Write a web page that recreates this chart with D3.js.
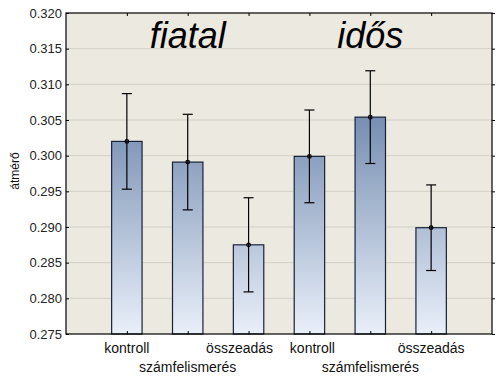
<!DOCTYPE html>
<html><head><meta charset="utf-8">
<script src="https://cdn.jsdelivr.net/npm/d3@7"></script>
<style>body{margin:0;background:#fff}svg{display:block}</style>
</head><body>
<svg id="c" width="503" height="378"></svg>
<script>
const categories = ["fiatal-kontroll","fiatal-számfelismerés","fiatal-összeadás","idős-kontroll","idős-számfelismerés","idős-összeadás"];
const tickLabels = ["kontroll","számfelismerés","összeadás","kontroll","számfelismerés","összeadás"];
const groupLabels = ["fiatal","idős"];
const means = [0.3020, 0.2991, 0.2875, 0.2999, 0.3054, 0.2899];
const errors = [0.0067, 0.0067, 0.0066, 0.0065, 0.0065, 0.0060];
const yTicks = [0.275,0.280,0.285,0.290,0.295,0.300,0.305,0.310,0.315,0.320];

const svg = d3.select("#c");
const L=66, R=492, T=13, B=334;
const x = d3.scalePoint().domain(categories).range([L,R]).padding(1);
const y = d3.scaleLinear().domain([0.275,0.320]).range([B,T]);
const bw = x.step()*0.5;

const defs = svg.append("defs");
const g = defs.append("linearGradient").attr("id","bg").attr("gradientUnits","userSpaceOnUse")
  .attr("x1",0).attr("x2",0).attr("y1",T+90).attr("y2",B);
g.append("stop").attr("offset",0).attr("stop-color","#6f88ad");
g.append("stop").attr("offset",1).attr("stop-color","#e9eff9");

svg.append("rect").attr("x",L).attr("y",T).attr("width",R-L).attr("height",B-T).attr("fill","#ece9e0");

// gridlines
svg.append("g").selectAll("line").data(yTicks.slice(1,-1)).join("line")
  .attr("x1",L).attr("x2",R).attr("y1",d=>y(d)).attr("y2",d=>y(d))
  .attr("stroke","#d3d0c6").attr("stroke-width",1);

// bars
svg.append("g").selectAll("rect").data(categories).join("rect")
  .attr("x",d=>x(d)-bw/2).attr("width",bw)
  .attr("y",(d,i)=>y(means[i])).attr("height",(d,i)=>B-y(means[i]))
  .attr("fill","url(#bg)").attr("stroke","#15223a").attr("stroke-width",1.2);

// error bars
const eg = svg.append("g").attr("stroke","#000").attr("stroke-width",1.2);
categories.forEach((c,i)=>{
  const cx=x(c), hi=y(means[i]+errors[i]), lo=y(means[i]-errors[i]);
  eg.append("line").attr("x1",cx).attr("x2",cx).attr("y1",hi).attr("y2",lo);
  eg.append("line").attr("x1",cx-5).attr("x2",cx+5).attr("y1",hi).attr("y2",hi);
  eg.append("line").attr("x1",cx-5).attr("x2",cx+5).attr("y1",lo).attr("y2",lo);
  eg.append("circle").attr("cx",cx).attr("cy",y(means[i])).attr("r",1.8).attr("fill","none");
});

// frame
svg.append("rect").attr("x",L).attr("y",T).attr("width",R-L).attr("height",B-T)
  .attr("fill","none").attr("stroke","#000").attr("stroke-width",1.2);

// left axis
const ya = svg.append("g").attr("transform",`translate(${L},0)`)
  .call(d3.axisLeft(y).tickValues(yTicks).tickFormat(d3.format(".3f")).tickSize(-3).tickPadding(4));
ya.select(".domain").remove();
ya.selectAll("text").attr("font-family","Arial, 'Liberation Sans', sans-serif").attr("font-size",13).attr("fill","#222");
ya.selectAll("line").attr("stroke","#000");
// right axis ticks
const yr = svg.append("g").attr("transform",`translate(${R},0)`)
  .call(d3.axisRight(y).tickValues(yTicks).tickFormat("").tickSize(3));
yr.select(".domain").remove();
// top / bottom ticks
const xt = svg.append("g").attr("transform",`translate(0,${T})`).call(d3.axisBottom(x).tickFormat("").tickSize(3));
xt.select(".domain").remove();
const xb = svg.append("g").attr("transform",`translate(0,${B})`).call(d3.axisTop(x).tickFormat("").tickSize(3));
xb.select(".domain").remove();

// x labels
const font="Arial, 'Liberation Sans', sans-serif";
const shift=[0,0,-9,3,0,0];
svg.append("g").selectAll("text").data(categories).join("text")
  .attr("x",(d,i)=>x(d)+shift[i]).attr("y",(d,i)=>i%3===1?372:353)
  .attr("text-anchor","middle").attr("font-family",font).attr("font-size",14).attr("fill","#111")
  .text((d,i)=>tickLabels[i]);

// group labels
svg.append("g").selectAll("text").data(groupLabels).join("text")
  .attr("x",(d,i)=>x(categories[i*3+1])).attr("y",48)
  .attr("text-anchor","middle").attr("font-family",font).attr("font-style","italic")
  .attr("font-size",36).attr("fill","#000").text(d=>d);

// y label
svg.append("text").attr("transform","translate(19,171) rotate(-90)")
  .attr("text-anchor","middle").attr("font-family",font).attr("font-size",12).attr("fill","#111").text("átmérő");
</script>
</body></html>
